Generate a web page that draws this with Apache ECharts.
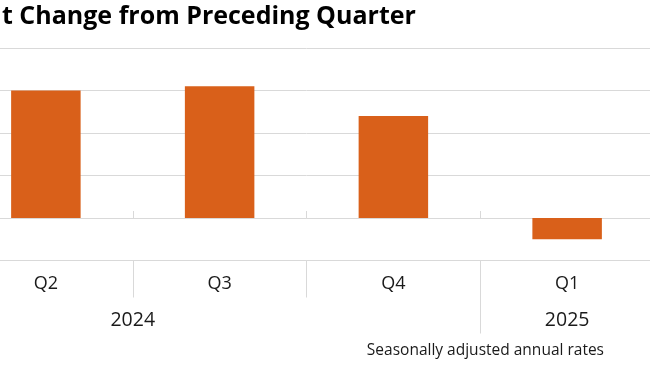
<!DOCTYPE html>
<html><head><meta charset="utf-8">
<script src="https://cdn.jsdelivr.net/npm/echarts@6/dist/echarts.min.js"></script>
<style>html,body{margin:0;padding:0;background:#fff;overflow:hidden}#c{width:695px;height:365px;margin-left:-41px}</style>
</head><body><div id="c"></div>
<script>
var quarters = ['Q2', 'Q3', 'Q4', 'Q1'];
var values = [3.0, 3.1, 2.4, -0.5];
var years = [{ label: '2024', at: 0.5 }, { label: '2025', at: 3 }];
var yearBreakAt = 2.5;
var yTicks = { min: -1, max: 4, interval: 1 };
var titleText = 't Change from Preceding Quarter';
var noteText = 'Seasonally adjusted annual rates';

var SHIFT = 41;
var FONT = '"Open Sans", sans-serif';
var GRID = '#d9d9d9';
var chart = echarts.init(document.getElementById('c'), null, { renderer: 'canvas' });
var option = {
  animation: false,
  title: { text: titleText, left: SHIFT - 3, top: -1, textStyle: { fontFamily: FONT, fontWeight: 'bold', fontSize: 25, color: '#000' } },
  grid: { left: 0, right: 0, top: 48, bottom: 104.5, containLabel: false },
  xAxis: [
    { type: 'category', data: quarters, position: 'bottom',
      axisLine: { show: true, onZero: true, lineStyle: { color: GRID, width: 1 } },
      axisTick: { show: true, inside: true, length: 7, lineStyle: { color: GRID } },
      axisLabel: { show: false } },
    { type: 'category', data: quarters, position: 'bottom',
      axisLine: { show: true, onZero: false, lineStyle: { color: GRID, width: 1 } },
      axisTick: { show: true, length: 37, lineStyle: { color: GRID } },
      axisLabel: { show: true, margin: 14, fontFamily: FONT, fontSize: 18, color: '#1a1a1a' } }
  ],
  yAxis: { type: 'value', min: yTicks.min, max: yTicks.max, interval: yTicks.interval,
    axisLabel: { show: false }, axisLine: { show: false }, axisTick: { show: false },
    splitLine: { show: true, lineStyle: { color: GRID, width: 1 } } },
  series: [{ type: 'bar', xAxisIndex: 0, data: values, barWidth: '40%',
    itemStyle: { color: '#D9601A' } }]
};
chart.setOption(option);

var g = [];
var yBase = chart.convertToPixel({ yAxisIndex: 0 }, yTicks.min);
var x0 = chart.convertToPixel({ xAxisIndex: 0 }, 0);
var x1 = chart.convertToPixel({ xAxisIndex: 0 }, 1);
years.forEach(function (y) {
  var x = x0 + (x1 - x0) * y.at;
  g.push({ type: 'text', x: x, y: yBase + 59.5, style: { text: y.label, fontFamily: FONT, fontSize: 19.5, fill: '#1a1a1a', align: 'center', verticalAlign: 'middle' } });
});
(function () {
  var x = Math.round(x0 + (x1 - x0) * yearBreakAt) + 0.5;
  g.push({ type: 'line', shape: { x1: x, y1: yBase, x2: x, y2: yBase + 73 }, style: { stroke: GRID, lineWidth: 1 } });
})();
g.push({ type: 'text', right: 50, top: 343, style: { text: noteText, fontFamily: FONT, fontSize: 15.5, fill: '#1a1a1a' } });
chart.setOption({ graphic: g });
</script></body></html>
